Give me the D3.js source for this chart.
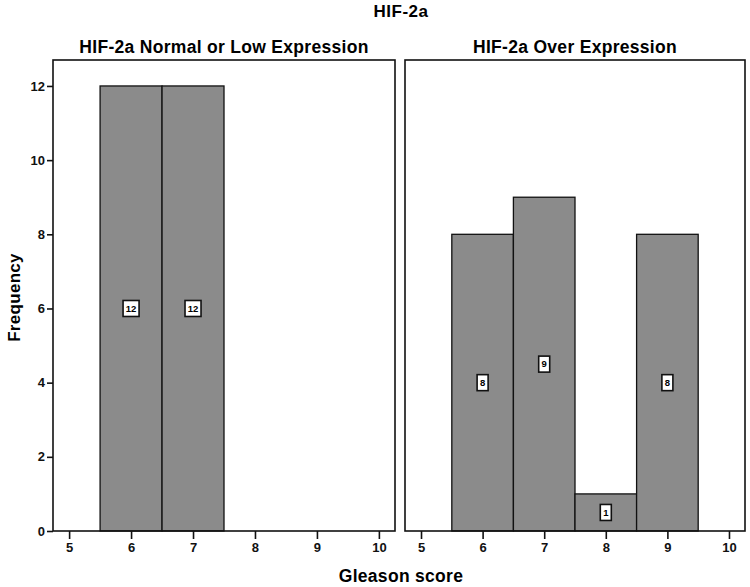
<!DOCTYPE html>
<html>
<head>
<meta charset="utf-8">
<script src="https://cdn.jsdelivr.net/npm/d3@7"></script>
<style>
  body { margin: 0; background: #fff; }
  text { font-family: "Liberation Sans", Arial, sans-serif; font-weight: bold; }
</style>
</head>
<body>
<script>
const width = 750, height = 587;

// data
const scores = [5, 6, 7, 8, 9, 10];
const panelTitles = ["HIF-2a Normal or Low Expression", "HIF-2a Over Expression"];
const normalCounts = [0, 12, 12, 0, 0, 0];
const overCounts = [0, 8, 9, 1, 8, 0];
const yTicks = [0, 2, 4, 6, 8, 10, 12];

const panels = [
  { title: panelTitles[0], counts: normalCounts, x0: 53, x1: 395 },
  { title: panelTitles[1], counts: overCounts, x0: 405, x1: 745 }
];

const plotTop = 60, plotBottom = 531;

const svg = d3.select("body").append("svg")
  .attr("width", width)
  .attr("height", height);

const y = d3.scaleLinear().domain([0, 12.7]).range([plotBottom, plotTop]);

svg.append("text")
  .attr("x", 401).attr("y", 17)
  .attr("text-anchor", "middle")
  .attr("font-size", 17)
  .attr("letter-spacing", 0.5)
  .text("HIF-2a");

panels.forEach((p, pi) => {
  const x = d3.scaleLinear().domain([4.74, 10.26]).range([p.x0, p.x1]);
  const g = svg.append("g");

  g.append("text")
    .attr("x", (p.x0 + p.x1) / 2).attr("y", 53)
    .attr("text-anchor", "middle")
    .attr("font-size", 17.5)
    .attr("letter-spacing", 0.3)
    .text(p.title);

  const bars = scores.map((s, i) => ({ s, v: p.counts[i] })).filter(d => d.v > 0);

  g.selectAll("rect.bar")
    .data(bars)
    .enter().append("rect")
    .attr("class", "bar")
    .attr("x", d => x(d.s - 0.5))
    .attr("width", d => x(d.s + 0.5) - x(d.s - 0.5))
    .attr("y", d => y(d.v))
    .attr("height", d => y(0) - y(d.v))
    .attr("fill", "#8b8b8b")
    .attr("stroke", "#111")
    .attr("stroke-width", 1.3);

  const lab = g.selectAll("g.lab")
    .data(bars)
    .enter().append("g")
    .attr("class", "lab")
    .attr("transform", d => `translate(${x(d.s)},${y(d.v / 2)})`);

  lab.append("rect")
    .attr("x", d => d.v >= 10 ? -8 : -5.5)
    .attr("width", d => d.v >= 10 ? 16 : 11)
    .attr("y", -8).attr("height", 16)
    .attr("fill", "#fff")
    .attr("stroke", "#111")
    .attr("stroke-width", 1.6);

  lab.append("text")
    .attr("text-anchor", "middle")
    .attr("dy", "0.35em")
    .attr("font-size", 9.5)
    .text(d => d.v);

  // frame
  g.append("rect")
    .attr("x", p.x0).attr("y", plotTop)
    .attr("width", p.x1 - p.x0).attr("height", plotBottom - plotTop)
    .attr("fill", "none")
    .attr("stroke", "#111")
    .attr("stroke-width", 1.6);

  const xAxis = g.append("g")
    .attr("transform", `translate(0,${plotBottom})`)
    .call(d3.axisBottom(x).tickValues(scores).tickSize(8).tickPadding(4).tickFormat(d3.format("d")));
  xAxis.select(".domain").remove();
  xAxis.selectAll("line").attr("stroke", "#111").attr("stroke-width", 1.6);
  xAxis.selectAll("text").attr("font-size", 13).attr("fill", "#111");

  if (pi === 0) {
    const yAxis = g.append("g")
      .attr("transform", `translate(${p.x0},0)`)
      .call(d3.axisLeft(y).tickValues(yTicks).tickSize(6).tickPadding(2));
    yAxis.select(".domain").remove();
    yAxis.selectAll("line").attr("stroke", "#111").attr("stroke-width", 1.6);
    yAxis.selectAll("text").attr("font-size", 13).attr("fill", "#111");
  }
});

svg.append("text")
  .attr("transform", `translate(20,${(plotTop + plotBottom) / 2 + 2}) rotate(-90)`)
  .attr("text-anchor", "middle")
  .attr("font-size", 17)
  .attr("letter-spacing", 0.3)
  .text("Frequency");

svg.append("text")
  .attr("x", 401).attr("y", 582)
  .attr("text-anchor", "middle")
  .attr("font-size", 17.5)
  .attr("letter-spacing", 0.3)
  .text("Gleason score");
</script>
</body>
</html>
